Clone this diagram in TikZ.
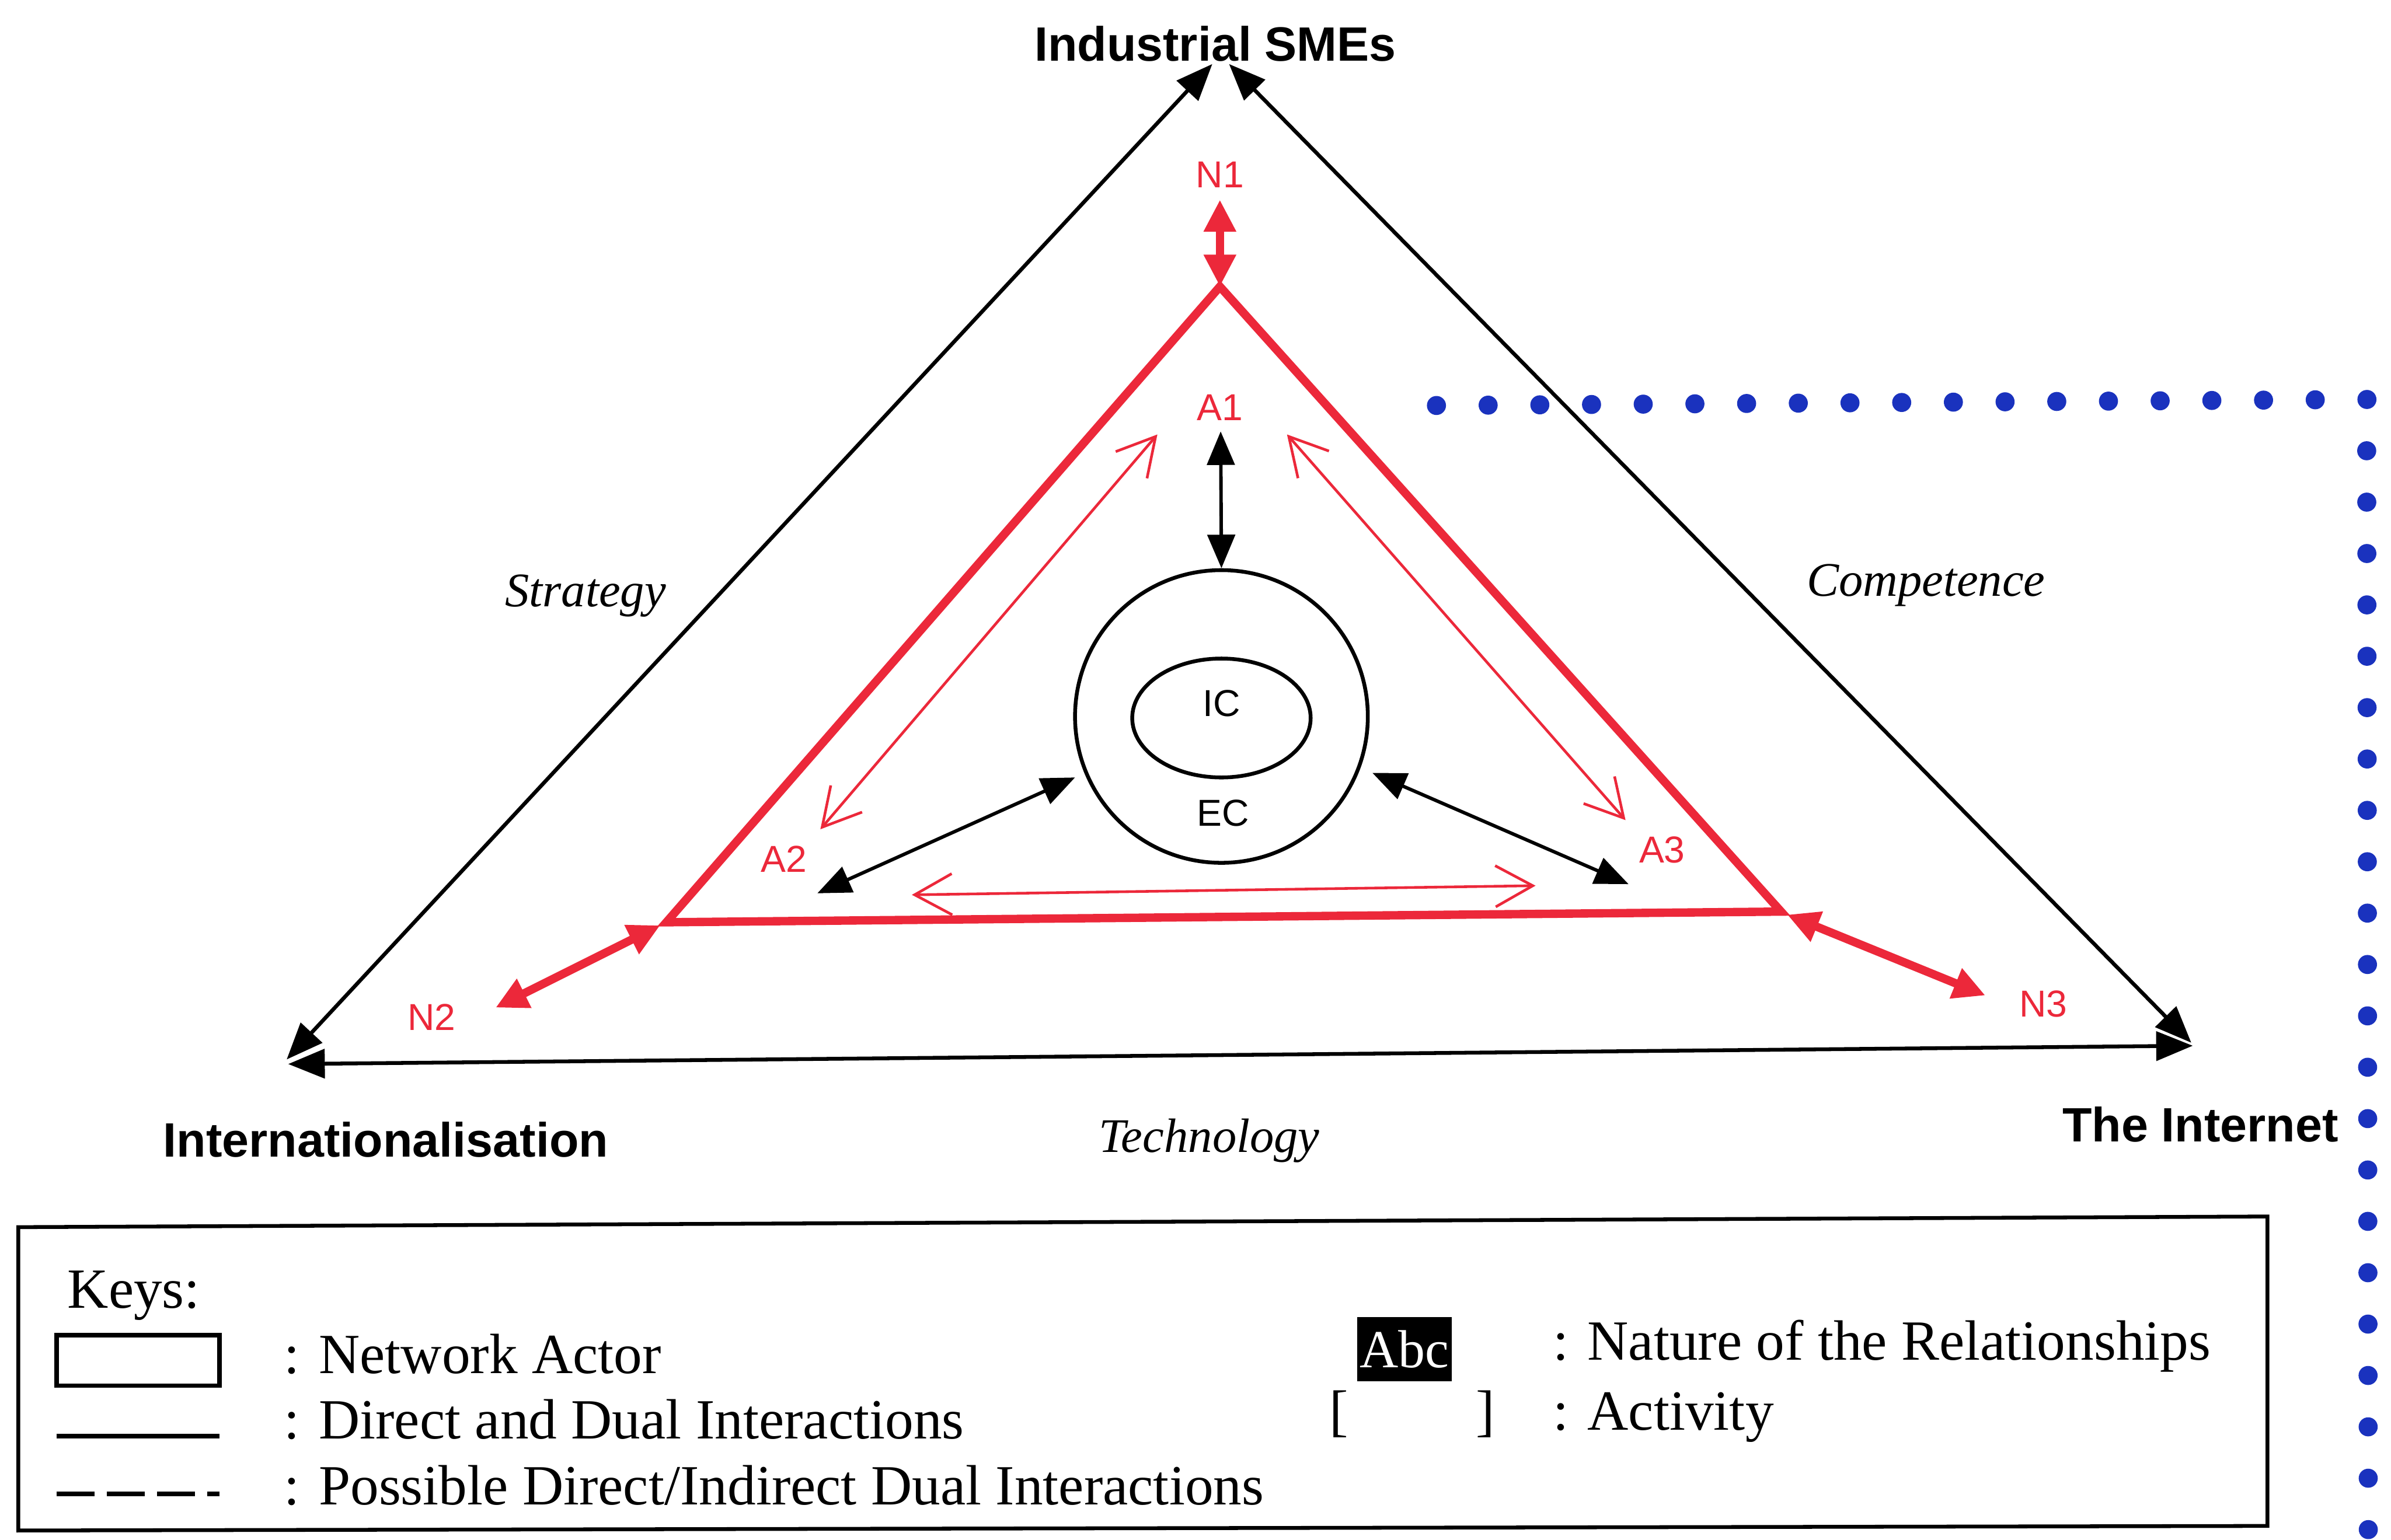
\documentclass[tikz,border=0pt]{standalone}
\usepackage{fontspec}
\setmainfont{Liberation Serif}
\setsansfont{Liberation Sans}
\usetikzlibrary{arrows.meta,shapes.geometric}
\definecolor{netred}{RGB}{236,40,58}
\definecolor{dotblue}{RGB}{26,50,190}

\begin{document}
\begin{tikzpicture}[x=0.2mm,y=-0.2mm,
  actor/.style={font=\sffamily\bfseries\fontsize{18}{20}\selectfont, inner sep=0, anchor=base},
  dimension/.style={font=\itshape\fontsize{18}{20}\selectfont, inner sep=0, anchor=base},
  tag/.style={font=\sffamily\fontsize{14}{16}\selectfont, text=netred, inner sep=0, anchor=base},
  core/.style={font=\sffamily\fontsize{14}{16}\selectfont, inner sep=0, anchor=base},
  edge/.style={line width=0.5mm, {Triangle[length=4.8mm,width=3.8mm]}-{Triangle[length=4.8mm,width=3.8mm]}},
  link/.style={line width=0.45mm, {Triangle[length=4.4mm,width=3.6mm]}-{Triangle[length=4.4mm,width=3.6mm]}},
  tie/.style={netred, line width=1.1mm, {Triangle[length=4.2mm,width=4mm]}-{Triangle[length=4.2mm,width=4mm]}},
  flow/.style={netred, line width=0.35mm, {Straight Barb[length=4.9mm,width=5.4mm]}-{Straight Barb[length=4.9mm,width=5.4mm]}},
  keytext/.style={font=\fontsize{21.2}{24}\selectfont, anchor=base west, inner sep=0},
  bluedot/.style={fill=dotblue},
]
% page frame
\fill[white] (0,0) rectangle (1568,1010);
\useasboundingbox (0,0) rectangle (1568,1010);

% ---- blue dotted frame ----
\foreach \i in {0,...,18}
  \fill[bluedot] ({942+\i*33.9},{266-\i*0.22}) circle (1.25mm);
\foreach \i in {1,...,22}
  \fill[bluedot] ({1552+\i*0.05},{262+\i*33.7}) circle (1.25mm);

% ---- actors ----
\node[actor] (sme) at (797,40) {Industrial SMEs};
\node[actor] (intl) at (253,759) {Internationalisation};
\node[actor] (net) at (1443,749) {The Internet};

% corners of the outer triangle
\coordinate (topL) at (795,42);
\coordinate (topR) at (806,42);
\coordinate (leftE) at (188,695);
\coordinate (leftB) at (189,698);
\coordinate (rightE) at (1437,684);
\coordinate (rightB) at (1438,686);

\draw[edge] (leftE) -- (topL);
\draw[edge] (topR) -- (rightE);
\draw[edge] (leftB) -- (rightB);

\node[dimension] (strat) at (384,398) {Strategy};
\node[dimension] (comp) at (1263,391) {Competence};
\node[dimension] (tech) at (793,756) {Technology};

% ---- red network triangle ----
\coordinate (r1) at (800,188);
\coordinate (r2) at (437,605);
\coordinate (r3) at (1168,598);
\draw[netred, line width=1.1mm, line join=miter] (r1) -- (r2) -- (r3) -- cycle;

\node[tag] (n1) at (800,123) {N1};
\node[tag] (n2) at (283,676) {N2};
\node[tag] (n3) at (1340,667) {N3};
\coordinate (n1e) at (800,131);
\coordinate (n2e) at (325,661);
\coordinate (n3e) at (1302,653);
\coordinate (r2e) at (433,607);
\coordinate (r3e) at (1172,600);
\draw[tie] (r1) -- (n1e);
\draw[tie] (r2e) -- (n2e);
\draw[tie] (r3e) -- (n3e);

\node[tag] (a1) at (800,276) {A1};
\node[tag] (a2) at (514,572) {A2};
\node[tag] (a3) at (1090,566) {A3};

% activity flows between A1, A2, A3
\coordinate (f1) at (759,285);
\coordinate (f2) at (538,544);
\coordinate (f3) at (844,285);
\coordinate (f4) at (1066,538);
\coordinate (f5) at (598,587);
\coordinate (f6) at (1007,581);
\draw[flow] (f1) -- (f2);
\draw[flow] (f3) -- (f4);
\draw[flow] (f5) -- (f6);

% ---- core: internal and external competences ----
\node[draw, circle, line width=0.5mm, minimum size=38.4mm, inner sep=0] (ec) at (801,470) {};
\node[draw, ellipse, line width=0.5mm, minimum width=23.4mm, minimum height=15.6mm, inner sep=0] (ic) at (801,471) {};
\node[core] (ictext) at (801,470) {IC};
\node[core] (ectext) at (802,542) {EC};

\coordinate (k1) at (800.5,283);
\coordinate (k2) at (536,586);
\coordinate (k3) at (705,510);
\coordinate (k4) at (900,507);
\coordinate (k5) at (1068,580);
\draw[link] (k1) -- (ec.north);
\draw[link] (k2) -- (k3);
\draw[link] (k4) -- (k5);

% ---- legend ----
\draw[line width=0.5mm] (12,805) -- (1487,798) -- (1487,1001) -- (12,1004) -- cycle;
\node[keytext] (keys) at (44,858) {Keys:};
\draw[line width=0.6mm] (37,876) rectangle (144,909);
\node[keytext] (kactor) at (186,901) {: Network Actor};
\draw[line width=0.6mm] (37,942) -- (144,942);
\node[keytext] (kdirect) at (186,944) {: Direct and Dual Interactions};
\draw[line width=0.6mm, dash pattern=on 5mm off 1.6mm] (37,980) -- (144,980);
\node[keytext] (kposs) at (186,987) {: Possible Direct/Indirect Dual Interactions};
\node[fill=black, text=white, inner sep=0, minimum width=12.4mm, minimum height=8.4mm,
      font=\fontsize{20}{22}\selectfont] (abc) at (921,885) {Abc};
\node[keytext] (knature) at (1018,892) {: Nature of the Relationships};
\node[keytext, anchor=base] (lbr) at (878,938) {[};
\node[keytext, anchor=base] (rbr) at (974,938) {]};
\node[keytext] (kact) at (1018,938) {: Activity};
\end{tikzpicture}
\end{document}
